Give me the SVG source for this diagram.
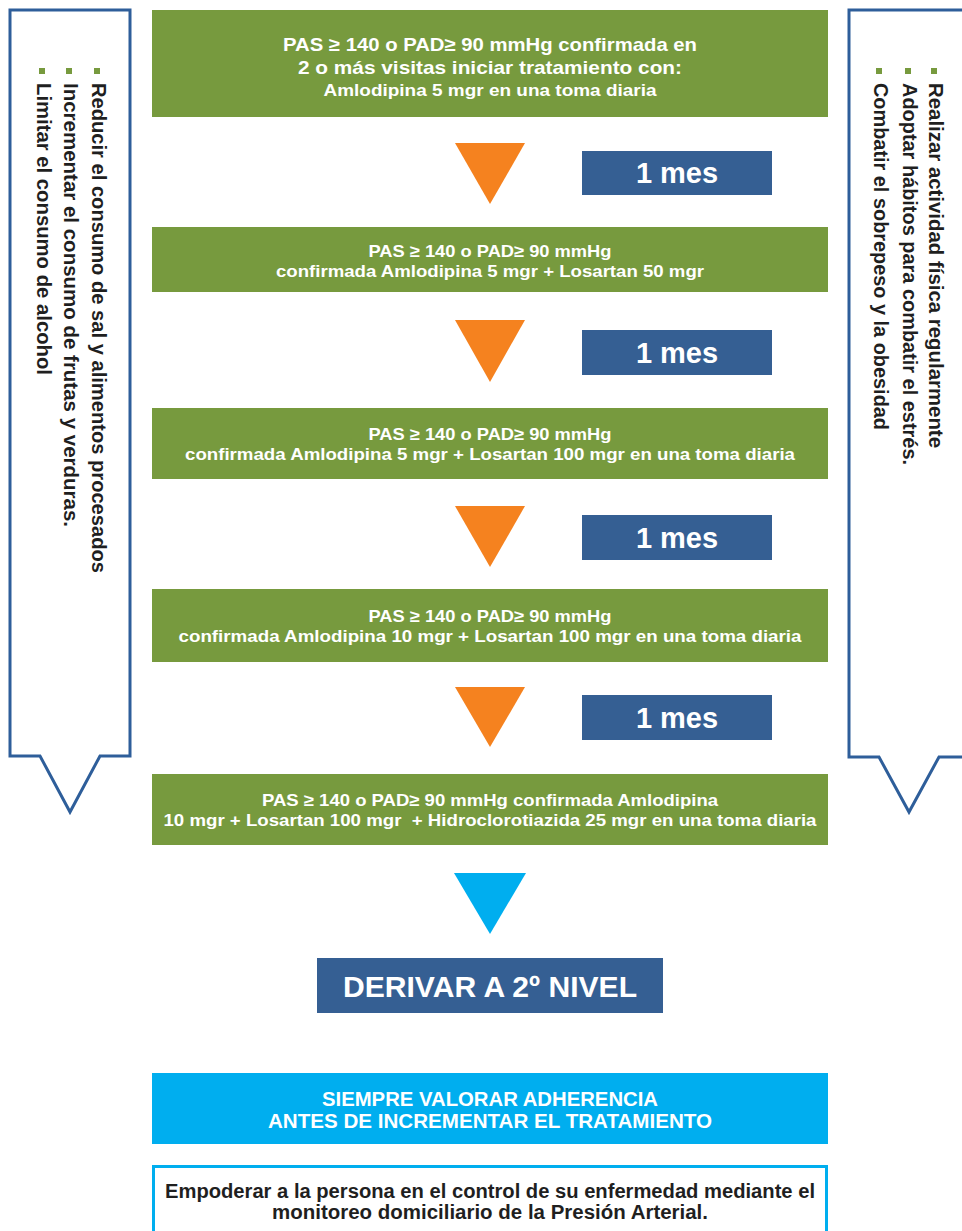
<svg xmlns="http://www.w3.org/2000/svg" width="962" height="1231" viewBox="0 0 962 1231">
<defs>
<style>
.g{fill:#779a3e}
.b{fill:#355f93}
.o{fill:#f5821f}
.c{fill:#00aeef}
.call{fill:#ffffff;stroke:#2e5e9a;stroke-width:3;stroke-linejoin:miter}
.t{font-family:"Liberation Sans",Arial,sans-serif;font-weight:bold;fill:#ffffff;text-anchor:middle}
.d{font-family:"Liberation Sans",Arial,sans-serif;font-weight:bold;fill:#1f1f1f}
.bul{fill:#779a3e}
</style>
</defs>
<rect width="962" height="1231" fill="#ffffff"/>

<g id="callout-left">
<path class="call" d="M10,10 H130 V756 H100 L70,812 L40,756 H10 Z"/>
<rect class="bul" x="94" y="68" width="6" height="6"/>
<rect class="bul" x="66" y="68" width="6" height="6"/>
<rect class="bul" x="39" y="68" width="6" height="6"/>
<text class="d" font-size="20" transform="translate(92,83) rotate(90)" textLength="490" lengthAdjust="spacingAndGlyphs">Reducir el consumo de sal y alimentos procesados</text>
<text class="d" font-size="20" transform="translate(64,83) rotate(90)" textLength="444" lengthAdjust="spacingAndGlyphs">Incrementar el consumo de frutas y verduras.</text>
<text class="d" font-size="20" transform="translate(37,83) rotate(90)" textLength="292" lengthAdjust="spacingAndGlyphs">Limitar el consumo de alcohol</text>
</g>

<g id="callout-right">
<path class="call" d="M849,10 H969 V757 H939 L909,812 L879,757 H849 Z"/>
<rect class="bul" x="931" y="68" width="6" height="6"/>
<rect class="bul" x="905" y="68" width="6" height="6"/>
<rect class="bul" x="876" y="68" width="6" height="6"/>
<text class="d" font-size="20" transform="translate(929,83) rotate(90)" textLength="365" lengthAdjust="spacingAndGlyphs">Realizar actividad física regularmente</text>
<text class="d" font-size="20" transform="translate(903,83) rotate(90)" textLength="382" lengthAdjust="spacingAndGlyphs">Adoptar hábitos para combatir el estrés.</text>
<text class="d" font-size="20" transform="translate(874,83) rotate(90)" textLength="347" lengthAdjust="spacingAndGlyphs">Combatir el sobrepeso y la obesidad</text>
</g>

<g id="step1">
<rect class="g" x="152" y="10" width="676" height="107"/>
<text class="t" font-size="19" x="490" y="51" textLength="414" lengthAdjust="spacingAndGlyphs">PAS ≥ 140 o PAD≥ 90 mmHg confirmada en</text>
<text class="t" font-size="19" x="490" y="74" textLength="384" lengthAdjust="spacingAndGlyphs">2 o más visitas iniciar tratamiento con:</text>
<text class="t" font-size="17" x="490" y="96" textLength="333" lengthAdjust="spacingAndGlyphs">Amlodipina 5 mgr en una toma diaria</text>
</g>

<g id="step2">
<rect class="g" x="152" y="227" width="676" height="65"/>
<text class="t" font-size="17" x="490" y="257" textLength="243" lengthAdjust="spacingAndGlyphs">PAS ≥ 140 o PAD≥ 90 mmHg</text>
<text class="t" font-size="17" x="490" y="277" textLength="428" lengthAdjust="spacingAndGlyphs">confirmada Amlodipina 5 mgr + Losartan 50 mgr</text>
</g>

<g id="step3">
<rect class="g" x="152" y="408" width="676" height="71"/>
<text class="t" font-size="17" x="490" y="440" textLength="243" lengthAdjust="spacingAndGlyphs">PAS ≥ 140 o PAD≥ 90 mmHg</text>
<text class="t" font-size="17" x="490" y="460" textLength="610" lengthAdjust="spacingAndGlyphs">confirmada Amlodipina 5 mgr + Losartan 100 mgr en una toma diaria</text>
</g>

<g id="step4">
<rect class="g" x="152" y="589" width="676" height="73"/>
<text class="t" font-size="17" x="490" y="622" textLength="243" lengthAdjust="spacingAndGlyphs">PAS ≥ 140 o PAD≥ 90 mmHg</text>
<text class="t" font-size="17" x="490" y="642" textLength="623" lengthAdjust="spacingAndGlyphs">confirmada Amlodipina 10 mgr + Losartan 100 mgr en una toma diaria</text>
</g>

<g id="step5">
<rect class="g" x="152" y="774" width="676" height="71"/>
<text class="t" font-size="17" x="490" y="806" textLength="456" lengthAdjust="spacingAndGlyphs">PAS ≥ 140 o PAD≥ 90 mmHg confirmada Amlodipina</text>
<text class="t" font-size="17" x="490" y="826" textLength="653" lengthAdjust="spacingAndGlyphs" xml:space="preserve">10 mgr + Losartan 100 mgr  + Hidroclorotiazida 25 mgr en una toma diaria</text>
</g>

<g id="mes1">
<rect class="b" x="582" y="151" width="190" height="44"/>
<text class="t" font-size="29" x="677" y="183">1 mes</text>
</g>
<g id="mes2">
<rect class="b" x="582" y="330" width="190" height="45"/>
<text class="t" font-size="29" x="677" y="363">1 mes</text>
</g>
<g id="mes3">
<rect class="b" x="582" y="515" width="190" height="45"/>
<text class="t" font-size="29" x="677" y="548">1 mes</text>
</g>
<g id="mes4">
<rect class="b" x="582" y="695" width="190" height="45"/>
<text class="t" font-size="29" x="677" y="728">1 mes</text>
</g>

<g id="derivar">
<rect class="b" x="317" y="958" width="346" height="55"/>
<text class="t" font-size="30" x="490" y="997" textLength="294" lengthAdjust="spacingAndGlyphs">DERIVAR A 2º NIVEL</text>
</g>

<g id="siempre">
<rect class="c" x="152" y="1073" width="676" height="71"/>
<text class="t" font-size="21" x="490" y="1106" textLength="336" lengthAdjust="spacingAndGlyphs">SIEMPRE VALORAR ADHERENCIA</text>
<text class="t" font-size="21" x="490" y="1128" textLength="444" lengthAdjust="spacingAndGlyphs">ANTES DE INCREMENTAR EL TRATAMIENTO</text>
</g>

<g id="empoderar">
<rect x="153.5" y="1166.5" width="673" height="80" fill="#ffffff" stroke="#00aeef" stroke-width="3"/>
<text class="d" font-size="20" x="490" y="1198" text-anchor="middle" textLength="650" lengthAdjust="spacingAndGlyphs">Empoderar a la persona en el control de su enfermedad mediante el</text>
<text class="d" font-size="20" x="490" y="1219" text-anchor="middle" textLength="436" lengthAdjust="spacingAndGlyphs">monitoreo domiciliario de la Presión Arterial.</text>
</g>

<g id="connectors">
<polygon class="o" points="455,143 525,143 490,204"/>
<polygon class="o" points="455,320 525,320 490,382"/>
<polygon class="o" points="455,506 525,506 490,567"/>
<polygon class="o" points="455,687 525,687 490,747"/>
<polygon class="c" points="454,873 526,873 490,934"/>
</g>
</svg>
